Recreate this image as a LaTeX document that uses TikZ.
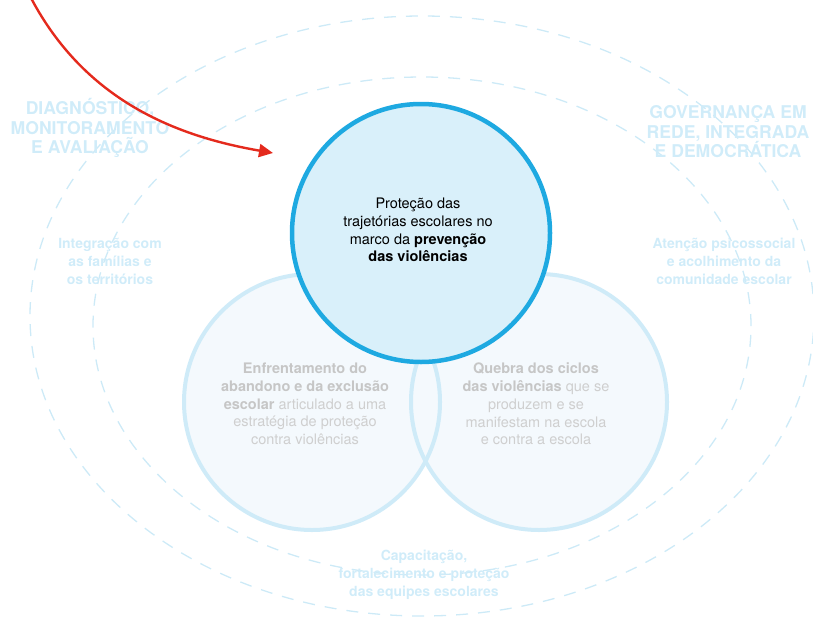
\documentclass[tikz,border=0pt]{standalone}
\usepackage{fontspec}
\setmainfont{TeX Gyre Heros}
\usetikzlibrary{arrows.meta}

\definecolor{ringblue}{HTML}{1EA9E1}
\definecolor{corefill}{HTML}{D9F0FA}
\definecolor{palering}{HTML}{CFEBF8}
\definecolor{palefill}{HTML}{F4F9FD}
\definecolor{dashblue}{HTML}{CDEAF7}
\definecolor{paletext}{HTML}{D0ECF9}
\definecolor{graybold}{HTML}{C6C6C6}
\definecolor{grayreg}{HTML}{CFCFCF}
\definecolor{arrowred}{HTML}{E42A1D}

\newcommand{\gb}[1]{\textcolor{graybold}{\textbf{#1}}}

\tikzset{
  ringdash/.style={draw=dashblue, line width=1.3pt, dash pattern=on 12pt off 10pt},
  titletext/.style={align=center, text=paletext, font=\bfseries\fontsize{17.6}{19.5}\selectfont},
  sidetext/.style={align=center, text=paletext, font=\bfseries\fontsize{14}{18}\selectfont},
  bodytext/.style={align=center, font=\fontsize{14.5}{17.8}\selectfont},
  softring/.style={circle, draw=palering, line width=4pt, minimum size=258pt, inner sep=0pt},
  corering/.style={circle, draw=ringblue, fill=corefill, line width=4.5pt, minimum size=258pt, inner sep=0pt}
}

\begin{document}
\begin{tikzpicture}[x=1pt,y=-1pt]
\useasboundingbox (0,0) rectangle (813,618);

% dashed rings
\draw[ringdash] (422,316) ellipse [x radius=392pt, y radius=300pt];
\draw[ringdash] (422,326) ellipse [x radius=329pt, y radius=249pt];

% outer titles
\node[titletext] (diag) at (90,128) {DIAGNÓSTICO,\\MONITORAMENTO\\E AVALIAÇÃO};
\node[titletext] (gov) at (728,132) {GOVERNANÇA EM\\REDE, INTEGRADA\\E DEMOCRÁTICA};

% side labels
\node[sidetext] (integ) at (110,261) {Integração com\\as famílias e\\os territórios};
\node[sidetext] (atenc) at (724,261) {Atenção psicossocial\\e acolhimento da\\comunidade escolar};
\node[sidetext] (capac) at (424,575) {Capacitação,\\fortalecimento e proteção\\das equipes escolares};

% lower circles
\fill[palefill] (312,402) circle [radius=128pt] (539,402) circle [radius=128pt];
\node[softring, minimum size=256pt] (leftring) at (312,402) {};
\node[softring, minimum size=256pt] (rightring) at (539,402) {};

% upper circle
\node[corering] (topring) at (421,233) {};

% circle texts
\node[bodytext, text=black] (core) at (418,230)
  {Proteção das\\trajetórias escolares no\\marco da \textbf{prevenção}\\\textbf{das violências}};
\node[bodytext, text=grayreg] (aband) at (305,404)
  {\gb{Enfrentamento do}\\\gb{abandono e da exclusão}\\\gb{escolar} articulado a uma\\estratégia de proteção\\contra violências};
\node[bodytext, text=grayreg] (ciclos) at (536,404)
  {\gb{Quebra dos ciclos}\\\gb{das violências} que se\\produzem e se\\manifestam na escola\\e contra a escola};

% red arrow
\coordinate (arrowstart) at (31,-2);
\coordinate (arrowtip) at (273,153);
\draw[arrowred, line width=2.4pt, -{Triangle[length=14pt,width=13pt]}]
  (arrowstart) .. controls (85,100) and (175,136) .. (arrowtip);

\end{tikzpicture}
\end{document}
